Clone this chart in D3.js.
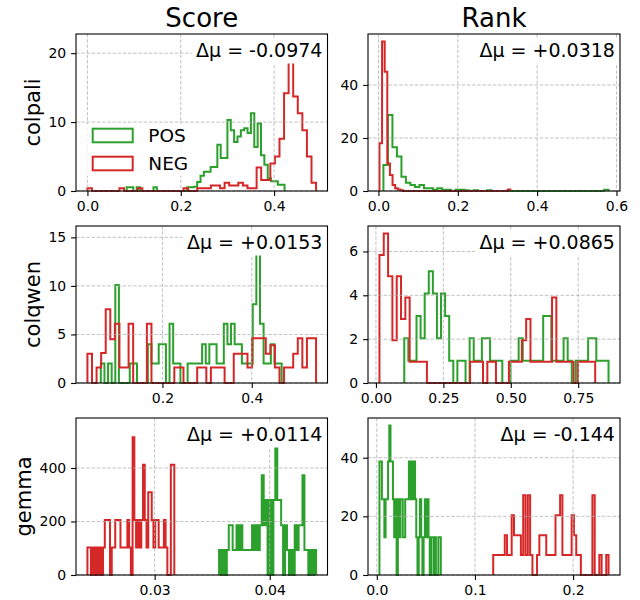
<!DOCTYPE html>
<html>
<head>
<meta charset="utf-8">
<script src="https://cdn.jsdelivr.net/npm/d3@7"></script>
<style>
  body { margin: 0; background: #fff; }
  svg { font-family: "DejaVu Sans", sans-serif; }
</style>
</head>
<body>
<svg id="chart" width="640" height="600"></svg>
<script>

var models = ["colpali", "colqwen", "gemma"];
var metrics = ["Score", "Rank"];
var seriesNames = ["POS", "NEG"];
var deltaLabels = ["Δμ = -0.0974", "Δμ = +0.0318", "Δμ = +0.0153", "Δμ = +0.0865", "Δμ = +0.0114", "Δμ = -0.144"];

// density per bin; ranges are [first edge, last edge]
var colpaliScorePos = [0.55,0.55,0,0.55,0,0,0,0,0.55,0, 0,0,0,0,0,0,0,0,0.55,0.55,
  0.6,1.3,2.2,2.8,2.8,3.5,3.5,6.7,4.8,4.8, 10.3,8.8,7.1,7.9,8.8,9.1,8.4,11.3,6.4,9.8,
  5.2,3.8,1.8,1.4,1.4,0.9,0.9];
var colpaliScorePosRange = [0.084, 0.4224];
var colpaliScoreNeg = [0.4,0,0,0,0,0,0,0.4,0,0, 0,0.4,0,0,0,0,0,0,0,0,
  0,0.4,0,0,0.4,0.4,0.4,0.8,0.8,0.4, 1.2,0.8,0.8,1.2,0.8,0.4,0.4,3.4,1.6,1.6,
  4.0,5.0,7.6,14.2,21.7,13.7,11.3,8.8,5.0,1.2];
var colpaliScoreNegRange = [0, 0.49];

var colpaliRankPos = [9.8,28.7,16.5,13.0,5.4,3.1,2.3,1.5,2.3,1.0, 1.0,0.5,1.0,0.5,0.5,0,0.5,0.5,0.3,0,
  0.3,0,0,0.3,0,0,0,0,0,0, 0,0,0,0,0,0,0,0,0,0, 0,0,0,0,0,0,0,0,0,0.5];
var colpaliRankPosRange = [0.0125, 0.58];
var colpaliRankNeg = [18.0,56.4,45.0,10.4,6.0,2.3,1.0,0.6,0.3,0, 0,0,0,0,0,0,0,0,0,0,
  0,0,0,0,0,0,0,0,0,0, 0,0,0,0,0,0,0,0,0,0, 0,0,0,0,0,0,0,0,0,0.6];
var colpaliRankNegRange = [0.0025, 0.3325];

var colqwenScorePos = [2.0,0,2.0,0,10.1,0,0,0,2.0,2.0, 0,0,0,4.0,2.0,2.0,4.0,4.0,0,6.1,
  2.0,2.0,0,0,2.0,2.0,2.0,2.0,4.0,2.0, 4.0,4.0,2.0,2.0,6.1,4.0,6.1,4.0,4.0,2.0,
  2.0,2.0,8.1,15.4,6.1,2.0,2.0,4.0,2.0,2.0];
var colqwenScorePosRange = [0.062, 0.467];
var colqwenScoreNeg = [3.0,0,1.6,3.1,7.6,4.5,6.1,1.6,1.6,6.1, 0,0,0,6.1,0,0,0,0,0,1.6,
  1.6,0,0,0,1.6,1.6,0,1.6,1.6,1.6, 0,0,3.0,3.0,3.0,1.6,4.6,4.6,4.6,3.0,
  3.9,1.6,0,1.6,1.6,3.0,4.6,1.6,4.6,4.6];
var colqwenScoreNegRange = [0.032, 0.544];

var colqwenRankPos = [2.04,1.02,1.02,3.06,2.04,4.08,5.1,4.08,2.04,4.08, 3.06,1.02,0,1.02,1.02,0,2.04,1.02,1.02,2.04,
  2.04,1.02,1.02,1.02,0,0,1.02,1.02,2.04,1.02, 1.02,1.02,1.02,1.02,3.06,3.06,1.02,1.02,1.02,2.04,
  1.02,0,1.02,1.02,1.02,2.04,2.04,1.02,1.02,1.02];
var colqwenRankPosRange = [0.105, 0.8625];
var colqwenRankNeg = [5.84,6.82,4.87,1.95,4.87,2.92,3.9,0.97,0.97,0.97, 0.97,0,0,0,0,0,0,0,0,0,
  0,0.97,0.97,0.97,0,0.97,0.97,0,0,0, 0.97,0.97,0.97,1.95,2.92,0.97,0.97,0.97,0.97,0.97,
  3.9,0.97,0.97,0.97,0.97,0,0.97,0.97,0.97,0.97];
var colqwenRankNegRange = [0.013, 0.813];

var gemmaScorePos = [93,0,93,0,93,186,186,93,93,186, 93,186,93,93,93,93,93,186,93,186,
  93,186,373,186,280,0,280,0,280,559, 280,280,186,0,186,93,0,93,0,186,
  93,186,186,373,93,93,0,93,0,93];
var gemmaScorePosRange = [0.0356, 0.04403];
var gemmaScoreNeg = [103,103,0,103,0,103,0,103,0,103, 206,206,206,0,103,103,206,206,206,103,
  103,103,103,206,103,0,515,206,103,206, 103,206,412,206,103,309,309,206,103,206,
  206,103,103,103,206,103,0,0,412,412];
var gemmaScoreNegRange = [0.02416, 0.03171];

var gemmaRankPos = [38.7,38.7,25.8,25.8,12.9,25.8,25.8,38.7,51.0,38.7, 38.7,25.8,12.9,25.8,0,25.8,12.9,25.8,25.8,12.9,
  12.9,25.8,25.8,25.8,38.7,25.8,38.7,25.8,38.7,25.8, 12.9,0,12.9,25.8,12.9,0,12.9,25.8,12.9,25.8,
  12.9,0,12.9,12.9,0,12.9,0,0,12.9,12.9];
var gemmaRankPosRange = [0.0027, 0.0652];
var gemmaRankNeg = [6.8,6.8,6.8,6.8,6.8,13.6,6.8,6.8,20.4,13.6, 13.6,13.6,6.8,27.2,6.8,27.2,6.8,0,0,6.8,
  13.6,13.6,13.6,6.8,6.8,6.8,6.8,20.4,20.4,27.2, 6.8,6.8,6.8,6.8,20.4,13.6,6.8,6.8,0,0,
  0,0,0,27.2,0,0,6.8,0,0,6.8];
var gemmaRankNegRange = [0.1186, 0.2361];

// tick values
var colpaliScoreXTicks = [0, 0.2, 0.4], colpaliScoreYTicks = [0, 10, 20];
var colpaliRankXTicks = [0, 0.2, 0.4, 0.6], colpaliRankYTicks = [0, 20, 40];
var colqwenScoreXTicks = [0.2, 0.4], colqwenScoreYTicks = [0, 5, 10, 15];
var colqwenRankXTicks = [0, 0.25, 0.5, 0.75], colqwenRankYTicks = [0, 2, 4, 6];
var gemmaScoreXTicks = [0.03, 0.04], gemmaScoreYTicks = [0, 200, 400];
var gemmaRankXTicks = [0, 0.1, 0.2], gemmaRankYTicks = [0, 20, 40];

var panels = [
  {row: 0, col: 0, pos: colpaliScorePos, posR: colpaliScorePosRange, neg: colpaliScoreNeg, negR: colpaliScoreNegRange, xt: colpaliScoreXTicks, yt: colpaliScoreYTicks, fmt: ".1f"},
  {row: 0, col: 1, pos: colpaliRankPos, posR: colpaliRankPosRange, neg: colpaliRankNeg, negR: colpaliRankNegRange, xt: colpaliRankXTicks, yt: colpaliRankYTicks, fmt: ".1f"},
  {row: 1, col: 0, pos: colqwenScorePos, posR: colqwenScorePosRange, neg: colqwenScoreNeg, negR: colqwenScoreNegRange, xt: colqwenScoreXTicks, yt: colqwenScoreYTicks, fmt: ".1f"},
  {row: 1, col: 1, pos: colqwenRankPos, posR: colqwenRankPosRange, neg: colqwenRankNeg, negR: colqwenRankNegRange, xt: colqwenRankXTicks, yt: colqwenRankYTicks, fmt: ".2f"},
  {row: 2, col: 0, pos: gemmaScorePos, posR: gemmaScorePosRange, neg: gemmaScoreNeg, negR: gemmaScoreNegRange, xt: gemmaScoreXTicks, yt: gemmaScoreYTicks, fmt: ".2f"},
  {row: 2, col: 1, pos: gemmaRankPos, posR: gemmaRankPosRange, neg: gemmaRankNeg, negR: gemmaRankNegRange, xt: gemmaRankXTicks, yt: gemmaRankYTicks, fmt: ".1f"}
];

var colX = [[76, 327.5], [368, 620]];
var rowY = [[34, 191], [226, 383], [418, 575]];
var green = "#2ca02c", red = "#d62728";

var svg = d3.select("#chart");
var defs = svg.append("defs");

function stepPoints(vals, range) {
  var n = vals.length, w = (range[1] - range[0]) / n;
  var pts = [[range[0], 0]];
  vals.forEach(function(v, i) {
    pts.push([range[0] + i * w, v]);
    pts.push([range[0] + (i + 1) * w, v]);
  });
  pts.push([range[1], 0]);
  return pts;
}

panels.forEach(function(p, i) {
  var x0 = colX[p.col][0], x1 = colX[p.col][1];
  var y0 = rowY[p.row][0], y1 = rowY[p.row][1];

  var lo = Math.min(p.posR[0], p.negR[0]), hi = Math.max(p.posR[1], p.negR[1]);
  var m = (hi - lo) * 0.05;
  var x = d3.scaleLinear().domain([lo - m, hi + m]).range([x0, x1]);
  var y = d3.scaleLinear().domain([0, d3.max(p.pos.concat(p.neg)) * 1.05]).range([y1, y0]);

  defs.append("clipPath").attr("id", "clip" + i)
    .append("rect").attr("x", x0).attr("y", y0 - 1).attr("width", x1 - x0).attr("height", y1 - y0 + 2);

  var g = svg.append("g");
  var plot = g.append("g").attr("clip-path", "url(#clip" + i + ")");

  var line = d3.line().x(function(d) { return x(d[0]); }).y(function(d) { return y(d[1]); });

  plot.append("path").attr("d", line(stepPoints(p.pos, p.posR)))
    .attr("fill", "none").attr("stroke", green).attr("stroke-width", 2).attr("stroke-linejoin", "miter");
  plot.append("path").attr("d", line(stepPoints(p.neg, p.negR)))
    .attr("fill", "none").attr("stroke", red).attr("stroke-width", 2).attr("stroke-linejoin", "miter");

  // grid
  p.xt.forEach(function(t) {
    g.append("line").attr("x1", x(t)).attr("x2", x(t)).attr("y1", y0).attr("y2", y1)
      .attr("stroke", "#b0b0b0").attr("stroke-width", 0.9).attr("stroke-dasharray", "3.5,1.7").attr("opacity", 0.85);
  });
  p.yt.forEach(function(t) {
    g.append("line").attr("x1", x0).attr("x2", x1).attr("y1", y(t)).attr("y2", y(t))
      .attr("stroke", "#b0b0b0").attr("stroke-width", 0.9).attr("stroke-dasharray", "3.5,1.7").attr("opacity", 0.85);
  });

  // delta annotation with white box
  var tb = g.append("g");
  var tx = x1 - 0.02 * (x1 - x0), ty = y0 + 22.5;
  var rect = tb.append("rect").attr("fill", "#fff");
  var txt = tb.append("text").attr("x", tx).attr("y", ty).attr("text-anchor", "end")
    .style("font-size", "19px").attr("fill", "#000").text(deltaLabels[i]);
  var len = txt.node().getComputedTextLength();
  rect.attr("x", tx - len - 4.5).attr("y", ty - 18).attr("width", len + 9).attr("height", 25);

  // axes
  var ax = g.append("g").attr("transform", "translate(0," + y1 + ")")
    .call(d3.axisBottom(x).tickValues(p.xt).tickFormat(d3.format(p.fmt)).tickSize(4.9).tickPadding(4.9));
  var ay = g.append("g").attr("transform", "translate(" + x0 + ",0)")
    .call(d3.axisLeft(y).tickValues(p.yt).tickFormat(d3.format("d")).tickSize(4.9).tickPadding(4.9));
  [ax, ay].forEach(function(a) {
    a.select(".domain").remove();
    a.attr("font-family", null).attr("font-size", null);
    a.selectAll("text").style("font-size", "14px").attr("fill", "#000");
    a.selectAll("line").attr("stroke", "#000").attr("stroke-width", 1.1);
  });

  // spines
  g.append("rect").attr("x", x0).attr("y", y0).attr("width", x1 - x0).attr("height", y1 - y0)
    .attr("fill", "none").attr("stroke", "#000").attr("stroke-width", 1.1);

  // titles and row labels
  if (p.row === 0) {
    svg.append("text").attr("x", (x0 + x1) / 2).attr("y", 27).attr("text-anchor", "middle")
      .style("font-size", "26px").text(metrics[p.col]);
  }
  if (p.col === 0) {
    var minX = d3.min(ay.selectAll("text").nodes(), function(n) { return n.getBBox().x; }) + x0;
    var lx = minX - 8, ly = (y0 + y1) / 2;
    svg.append("text").attr("transform", "translate(" + lx + "," + ly + ") rotate(-90)")
      .attr("text-anchor", "middle").style("font-size", "21px").text(models[p.row]);
  }

  // legend in the first panel
  if (i === 0) {
    var lg = g.append("g");
    lg.append("rect").attr("x", x0 + 8).attr("y", y0 + 90).attr("width", 108).attr("height", 52)
      .attr("fill", "#fff").attr("opacity", 0.8);
    [green, red].forEach(function(c, k) {
      lg.append("rect").attr("x", x0 + 16.7).attr("y", y0 + 94.7 + k * 28).attr("width", 40).attr("height", 13.6)
        .attr("fill", "none").attr("stroke", c).attr("stroke-width", 2);
      lg.append("text").attr("x", x0 + 72.3).attr("y", y0 + 108.3 + k * 28)
        .style("font-size", "18.5px").text(seriesNames[k]);
    });
  }
});
</script>
</body>
</html>
